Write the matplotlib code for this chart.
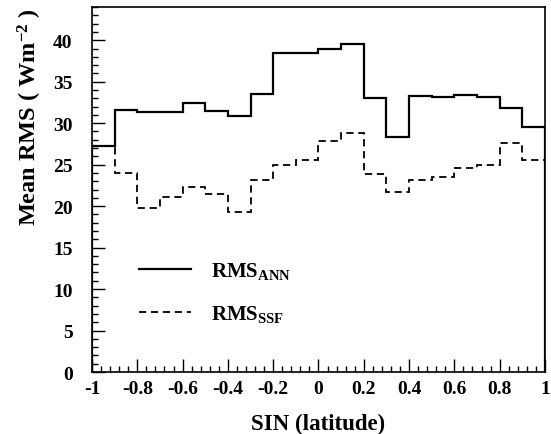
import numpy as np
import matplotlib
matplotlib.use("Agg")
import matplotlib.pyplot as plt
from matplotlib.ticker import MultipleLocator

# datos
bordes = [-1.0, -0.9, -0.8, -0.7, -0.6, -0.5, -0.4, -0.3, -0.2, -0.1, 0.0,
          0.1, 0.2, 0.3, 0.4, 0.5, 0.6, 0.7, 0.8, 0.9, 1.0]
rms_ann = [27.2, 31.6, 31.3, 31.3, 32.4, 31.5, 30.9, 33.5, 38.4, 38.5,
           38.9, 39.5, 33.0, 28.3, 33.3, 33.2, 33.45, 33.1, 31.8, 29.5]
rms_ssf = [27.2, 24.0, 19.8, 21.1, 22.3, 21.5, 19.3, 23.2, 25.0, 25.6,
           27.8, 28.8, 23.9, 21.7, 23.2, 23.5, 24.6, 25.0, 27.6, 25.6]
xticks = [-1, -0.8, -0.6, -0.4, -0.2, 0, 0.2, 0.4, 0.6, 0.8, 1]
xtick_labels = ['-1', '-0.8', '-0.6', '-0.4', '-0.2', '0', '0.2', '0.4', '0.6', '0.8', '1']
yticks = [0, 5, 10, 15, 20, 25, 30, 35, 40]

plt.rcParams['font.family'] = ['Liberation Serif', 'DejaVu Serif']
plt.rcParams['mathtext.fontset'] = 'custom'
plt.rcParams['mathtext.rm'] = 'Liberation Serif:bold'
plt.rcParams['mathtext.bf'] = 'Liberation Serif:bold'
plt.rcParams['mathtext.it'] = 'Liberation Serif:bold'

fig = plt.figure(figsize=(5.51, 4.35), dpi=100)
ax = fig.add_axes([0.167, 0.1425, 0.822, 0.839])

ax.stairs(rms_ann, bordes, color='black', linewidth=1.6, label=r'RMS$_{\mathrm{ANN}}$')
ax.stairs(rms_ssf, bordes, color='black', linewidth=1.3, linestyle=(0, (4, 2.6)),
          label=r'RMS$_{\mathrm{SSF}}$')

ax.set_xlim(-1, 1)
ax.set_ylim(0, 44)
ax.set_xticks(xticks)
ax.set_xticklabels(xtick_labels, fontweight='bold')
ax.set_yticks(yticks)
ax.set_yticklabels([str(v) for v in yticks], fontweight='bold')
ax.xaxis.set_minor_locator(MultipleLocator(0.04))
ax.yaxis.set_minor_locator(MultipleLocator(1))
ax.tick_params(which='both', direction='in', top=False, right=False)
ax.tick_params(which='major', length=9.5, width=1)
ax.tick_params(which='minor', length=4.5, width=1)
ax.tick_params(axis='both', labelsize=14)
ax.tick_params(axis='x', pad=6)
ax.tick_params(axis='y', pad=14)
for s in ax.spines.values():
    s.set_linewidth(1.2)

ax.set_xlabel('SIN (latitude)', fontsize=16.5, fontweight='bold', labelpad=11)
ax.set_ylabel(r'Mean RMS ( Wm$^{-2}$ )', fontsize=17.5, fontweight='bold')
ax.yaxis.set_label_coords(-0.105, 0.70)

ax.legend(loc='lower left', bbox_to_anchor=(0.063, 0.08), frameon=False,
          handlelength=2.5, handletextpad=0.95, labelspacing=1.05,
          prop={'weight': 'bold', 'size': 15})

fig.savefig('out.png', dpi=100)
